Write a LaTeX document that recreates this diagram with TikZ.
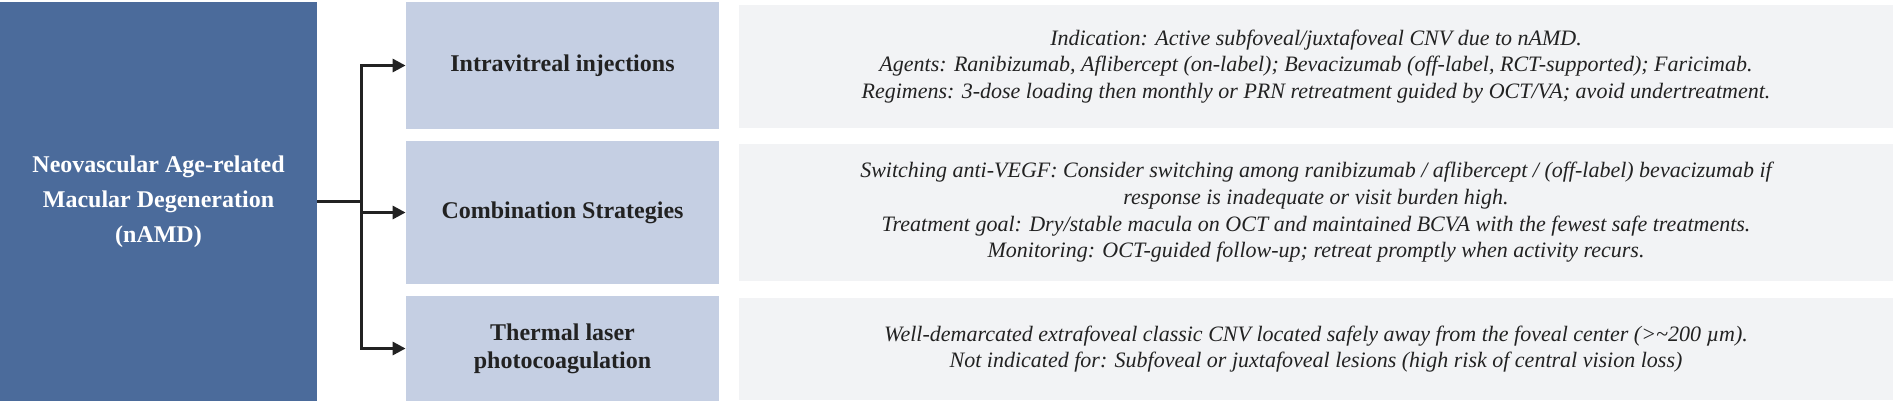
\documentclass[tikz,border=0pt]{standalone}
\usepackage{fontspec}
\setmainfont{Liberation Serif}
\usetikzlibrary{arrows.meta}

\definecolor{mainblue}{HTML}{4B6B9B}
\definecolor{midblue}{HTML}{C5CFE3}
\definecolor{descgray}{HTML}{F2F3F5}
\definecolor{inkdark}{HTML}{222222}

\tikzset{
	mainbox/.style={fill=mainblue,text=white,font=\fontsize{12}{17.5}\selectfont\bfseries,align=center,inner sep=0pt},
	midbox/.style={fill=midblue,text=inkdark,font=\fontsize{12}{14}\selectfont\bfseries,align=center,inner sep=0pt,minimum width=156.5pt},
	descbox/.style={fill=descgray,text=inkdark,font=\fontsize{11}{13.3}\selectfont\itshape,align=center,inner sep=0pt,minimum width=577pt},
	link/.style={line width=1.5pt,draw=inkdark},
	arrowlink/.style={link,-{Triangle[length=6.5pt,width=6.5pt]}}
}

\begin{document}
\begin{tikzpicture}[x=0.5pt,y=-0.5pt]
	\useasboundingbox (0,0) rectangle (1898,404);
	
	%main box
	\node[mainbox,minimum width=158.5pt,minimum height=199.5pt] (namd) at (158.5,201.5) {Neovascular Age-related\\Macular Degeneration\\(nAMD)};
	
	%treatment boxes
	\node[midbox,minimum height=63.5pt] (inject) at (562.5,65.5) {Intravitreal injections};
	\node[midbox,minimum height=71.5pt] (combo) at (562.5,212.5) {Combination Strategies};
	\node[midbox,minimum height=52.5pt] (laser) at (562.5,348.5) {Thermal laser\\photocoagulation};
	
	%details
	\node[descbox,minimum height=61.5pt] (injectinfo) at (1316,66.5) {Indication: Active subfoveal/juxtafoveal CNV due to nAMD.\\Agents: Ranibizumab, Aflibercept (on-label); Bevacizumab (off-label, RCT-supported); Faricimab.\\Regimens: 3-dose loading then monthly or PRN retreatment guided by OCT/VA; avoid undertreatment.};
	\node[descbox,minimum height=68.5pt] (comboinfo) at (1316,212.5) {Switching anti-VEGF: Consider switching among ranibizumab / aflibercept / (off-label) bevacizumab if\\response is inadequate or visit burden high.\\Treatment goal: Dry/stable macula on OCT and maintained BCVA with the fewest safe treatments.\\Monitoring: OCT-guided follow-up; retreat promptly when activity recurs.};
	\node[descbox,minimum height=51pt] (laserinfo) at (1316,349) {Well-demarcated extrafoveal classic CNV located safely away from the foveal center (>\textasciitilde200 µm).\\Not indicated for: Subfoveal or juxtafoveal lesions (high risk of central vision loss)};
	
	%arrows
	\coordinate (split) at (361,201.5);
	\draw[link] (namd.east) -- (split);
	\draw[arrowlink] (split) |- (inject.west);
	\draw[arrowlink] (split) |- (combo.west);
	\draw[arrowlink] (split) |- (laser.west);
\end{tikzpicture}
\end{document}
